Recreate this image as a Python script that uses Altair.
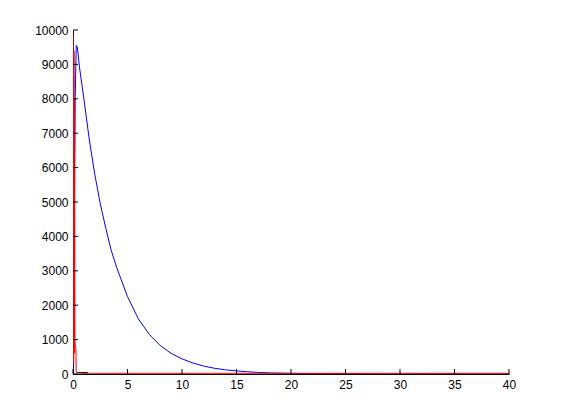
import altair as alt
import pandas as pd

# Blue series
blue_x = [0.0, 0.03, 0.1, 0.2, 0.3, 0.4, 0.6, 1.0, 1.5, 2.0, 2.5, 3.0, 3.5, 4.0, 5.0, 6.0, 7.0, 8.0, 9.0, 10.0, 11.0, 12.0, 13.0, 14.0, 15.0, 16.0, 17.0, 18.0, 19.0, 20.0, 22.0, 25.0, 30.0, 35.0, 40.0]
blue_y = [0, 400, 3500, 8000, 9550, 9500, 8900, 8000, 6800, 5800, 4950, 4250, 3600, 3100, 2250, 1600, 1150, 830, 600, 440, 320, 230, 165, 120, 90, 65, 45, 32, 25, 18, 10, 6, 3, 2, 1]

# Red series
red_x = [0.0, 0.03, 0.06, 0.09, 0.12, 0.15, 0.18, 0.22, 0.27, 0.29, 0.5, 1.0, 10.0, 20.0, 30.0, 40.0]
red_y = [9900, 9600, 300, 9400, 600, 8000, 1000, 750, 750, 40, 30, 20, 20, 20, 20, 20]

# Black short series near zero
black_x = [0.43, 1.35]
black_y = [40, 40]

x_ticks = [0, 5, 10, 15, 20, 25, 30, 35, 40]
y_ticks = [0, 1000, 2000, 3000, 4000, 5000, 6000, 7000, 8000, 9000, 10000]

W, H = 436, 344

blue = pd.DataFrame({"x": blue_x, "y": blue_y, "i": range(len(blue_x))})
red = pd.DataFrame({"x": red_x, "y": red_y, "i": range(len(red_x))})
black = pd.DataFrame({"x": black_x, "y": black_y, "i": range(len(black_x))})

xs = alt.Scale(domain=[0, 40], nice=False, zero=False)
ys = alt.Scale(domain=[0, 10000], nice=False, zero=False)

axis_common = dict(
    labelFont="Liberation Sans", labelFontSize=12, labelColor="#000000",
    domainColor="#000000", tickSize=0, grid=False, title=None, labelPadding=5,
    labelOverlap=False, labelFlush=False,
)

xax = alt.Axis(values=x_ticks, format="d", **axis_common)
yax = alt.Axis(values=y_ticks, format="d", **axis_common)

def line(df, color):
    return alt.Chart(df).mark_line(color=color, strokeWidth=1, clip=True).encode(
        x=alt.X("x:Q", scale=xs, axis=xax),
        y=alt.Y("y:Q", scale=ys, axis=yax),
        order="i:Q",
    )

xt = pd.DataFrame({"v": x_ticks})
yt = pd.DataFrame({"v": y_ticks})
xticks = alt.Chart(xt).mark_rule(color="#000000", strokeWidth=1).encode(
    x=alt.X("v:Q", scale=xs, axis=xax), y=alt.value(H), y2=alt.value(H - 5)
)
yticks = alt.Chart(yt).mark_rule(color="#000000", strokeWidth=1).encode(
    y=alt.Y("v:Q", scale=ys, axis=yax), x=alt.value(0), x2=alt.value(5)
)

chart = alt.layer(
    line(blue, "#0000ff"), line(red, "#ff0000"), line(black, "#000000"), xticks, yticks
).properties(
    width=W, height=H,
    autosize=alt.AutoSizeParams(type="none"),
    padding={"left": 65, "top": 22, "right": 44, "bottom": 30},
    background="#ffffff",
).configure_view(stroke=None)

chart.save("out.html", embed_options={"renderer": "svg", "actions": False})
